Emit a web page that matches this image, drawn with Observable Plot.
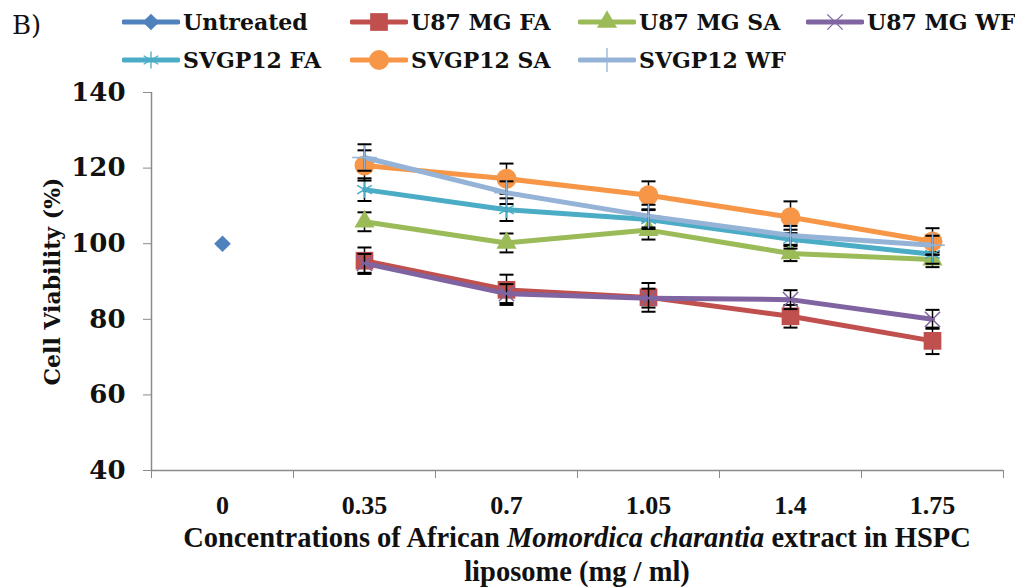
<!DOCTYPE html>
<html><head><meta charset="utf-8">
<script src="https://cdn.jsdelivr.net/npm/d3@7"></script>
<script src="https://cdn.jsdelivr.net/npm/@observablehq/plot@0.6"></script>
<style>
body{margin:0;background:#fff;font-family:"DejaVu Serif",serif;}
#wrap{position:relative;width:1015px;height:587px;overflow:hidden;}
#legend{position:absolute;left:0;top:0;width:1015px;height:80px;}
.item{position:absolute;display:flex;align-items:center;font-weight:bold;font-size:22px;color:#111;white-space:nowrap;transform:translateY(-50%);}
.item svg{margin-right:3px;}
#tag{position:absolute;left:12px;top:10px;font-size:26px;color:#111;}
#chart{position:absolute;left:0;top:80px;}
#xlabel{position:absolute;left:151px;width:852px;top:521px;text-align:center;font-family:"Liberation Serif",serif;font-weight:bold;font-size:28.5px;line-height:34px;color:#111;}
</style></head>
<body>
<div id="wrap">
  <div id="legend"><div id="tag">B)</div></div>
  <div id="chart"></div>
  <div id="xlabel">Concentrations of African <i>Momordica charantia</i> extract in HSPC<br>liposome (mg / ml)</div>
</div>
<script>
// ---- data ----
const concentrations = ["0", "0.35", "0.7", "1.05", "1.4", "1.75"];
const seriesNames = ["Untreated", "U87 MG FA", "U87 MG SA", "U87 MG WF", "SVGP12 FA", "SVGP12 SA", "SVGP12 WF"];
const seriesColors = ["#4F81BD", "#C0504D", "#9BBB59", "#8064A2", "#4BACC6", "#F79646", "#95B3D7"];
const seriesSymbols = ["diamond2", "square", "triangle", "times", "asterisk", "circle", "plus"];
const untreated = [100];
const u87FA = [95.5, 87.8, 85.8, 80.8, 74.3];
const u87SA = [105.8, 100.2, 103.6, 97.4, 95.8];
const u87WF = [94.8, 86.8, 85.6, 85.2, 80.0];
const svgFA = [114.3, 109.0, 106.4, 101.2, 97.2];
const svgSA = [120.7, 117.2, 112.8, 107.0, 100.6];
const svgWF = [122.8, 113.5, 107.3, 102.2, 99.6];
const untreatedErr = [0];
const u87FAErr = [3.5, 4, 3.8, 3, 3.5];
const u87SAErr = [2.5, 2.5, 2.5, 2, 2];
const u87WFErr = [2.5, 2.5, 2.5, 2.5, 2.5];
const svgFAErr = [3, 3, 2.5, 2.5, 2.5];
const svgSAErr = [4, 4, 3.7, 4.2, 3.5];
const svgWFErr = [3.5, 3, 3, 2.5, 2.5];
const yTicks = [40, 60, 80, 100, 120, 140];

const seriesValues = [untreated, u87FA, u87SA, u87WF, svgFA, svgSA, svgWF];
const seriesErrs = [untreatedErr, u87FAErr, u87SAErr, u87WFErr, svgFAErr, svgSAErr, svgWFErr];
const seriesStart = [0, 1, 1, 1, 1, 1, 1];
const strokeSymbols = new Set(["times", "asterisk", "plus"]);
const markerR = {diamond2: 7.5, square: 10, triangle: 7.5, times: 7, asterisk: 8, circle: 10, plus: 8};

const capSymbol = {draw(ctx) { ctx.moveTo(-7, 0); ctx.lineTo(7, 0); }};

const marks = [];
marks.push(Plot.ruleX([0], {stroke: "#8a8a8a", strokeWidth: 1.5}));
marks.push(Plot.ruleY([40], {stroke: "#8a8a8a", strokeWidth: 1.5}));

seriesNames.forEach((name, s) => {
  const rows = seriesValues[s].map((v, j) => ({
    series: name, x: seriesStart[s] + j + 0.5, y: v, err: seriesErrs[s][j]
  }));
  const color = seriesColors[s];
  const sym = seriesSymbols[s];
  marks.push(Plot.line(rows, {x: "x", y: "y", stroke: color, strokeWidth: 5, strokeLinejoin: "round", strokeLinecap: "round"}));
  const er = rows.filter(d => d.err > 0);
  marks.push(Plot.ruleX(er, {x: "x", y1: d => d.y - d.err, y2: d => d.y + d.err, stroke: "black", strokeWidth: 1.5}));
  marks.push(Plot.dot(er, {x: "x", y: d => d.y + d.err, symbol: capSymbol, stroke: "black", strokeWidth: 2, r: 5}));
  marks.push(Plot.dot(er, {x: "x", y: d => d.y - d.err, symbol: capSymbol, stroke: "black", strokeWidth: 2, r: 5}));
  if (strokeSymbols.has(sym)) {
    marks.push(Plot.dot(rows, {x: "x", y: "y", symbol: sym, r: markerR[sym], stroke: color, strokeWidth: 1.5, fill: "none"}));
  } else {
    marks.push(Plot.dot(rows, {x: "x", y: "y", symbol: sym, r: markerR[sym], fill: color, stroke: "none"}));
  }
});

marks.push(Plot.axisY({ticks: yTicks, tickSize: 8, tickPadding: 18, stroke: "#8a8a8a",
  fontFamily: "DejaVu Serif", fontWeight: "bold", fontSize: 26,
  label: null}));
marks.push(Plot.axisY({ticks: [], tickSize: 0, fontFamily: "DejaVu Serif", fontWeight: "bold", fontSize: 22,
  label: "Cell Viability (%)", labelAnchor: "center", labelArrow: "none", labelOffset: 107}));
marks.push(Plot.axisX({ticks: d3.range(7), tickFormat: () => "", tickSize: 8, stroke: "#8a8a8a", label: null}));
marks.push(Plot.axisX({ticks: d3.range(6).map(i => i + 0.5), tickFormat: v => concentrations[Math.round(v - 0.5)],
  tickSize: 0, tickPadding: 25, fontFamily: "Liberation Serif", fontWeight: "bold", fontSize: 26, label: null}));

const chart = Plot.plot({
  width: 1015, height: 445,
  marginLeft: 151, marginRight: 12, marginTop: 12, marginBottom: 55,
  x: {type: "linear", domain: [0, 6]},
  y: {domain: [40, 140]},
  style: {color: "#111", background: "white", overflow: "visible"},
  marks
});
document.getElementById("chart").appendChild(chart);

// ---- legend ----
const legend = document.getElementById("legend");
const d3Sym = {diamond2: d3.symbolDiamond2, square: d3.symbolSquare, triangle: d3.symbolTriangle, times: d3.symbolTimes, asterisk: d3.symbolAsterisk, circle: d3.symbolCircle, plus: d3.symbolPlus};
seriesNames.forEach((name, s) => {
  const row = s < 4 ? 0 : 1;
  const col = s < 4 ? s : s - 4;
  const item = document.createElement("div");
  item.className = "item";
  item.style.left = (122 + col * 228) + "px";
  item.style.top = (row === 0 ? 22 : 60) + "px";
  const sym = seriesSymbols[s];
  const r = markerR[sym];
  const path = d3.symbol(d3Sym[sym], Math.PI * r * r)();
  const isStroke = strokeSymbols.has(sym);
  item.innerHTML = `<svg width="58" height="24"><line x1="2" x2="56" y1="12" y2="12" stroke="${seriesColors[s]}" stroke-width="5" stroke-linecap="round"/>` +
    `<path transform="translate(29,12)" d="${path}" ${isStroke ? `fill="none" stroke="${seriesColors[s]}" stroke-width="1.3"` : `fill="${seriesColors[s]}"`}/></svg><span>${name}</span>`;
  legend.appendChild(item);
});
</script>
</body></html>
